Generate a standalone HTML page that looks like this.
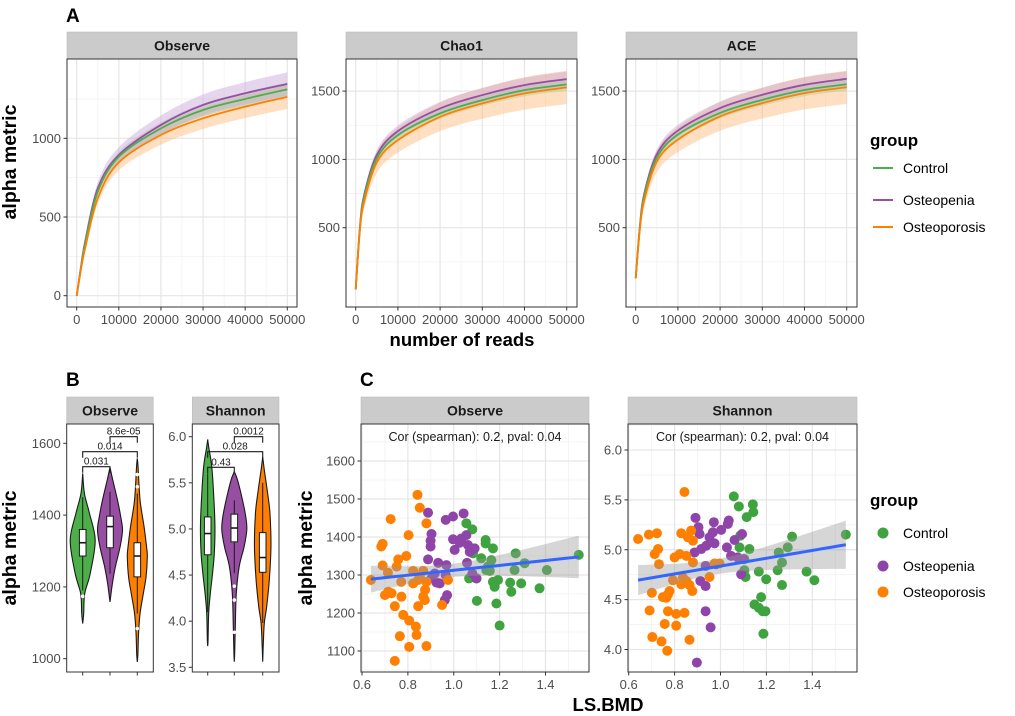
<!DOCTYPE html>
<html><head><meta charset="utf-8">
<style>
html,body{margin:0;padding:0;background:#fff;}
svg{display:block;font-family:"Liberation Sans",Arial,sans-serif;}
</style></head>
<body>
<svg id="chart" width="1015" height="716" viewBox="0 0 1015 716" xmlns="http://www.w3.org/2000/svg">
<text x="66" y="22" font-size="19" font-weight="bold">A</text>
<text x="66" y="386" font-size="19" font-weight="bold">B</text>
<text x="360" y="386" font-size="19" font-weight="bold">C</text>
<text transform="translate(16,162) rotate(-90)" text-anchor="middle" font-size="19.5" font-weight="bold">alpha metric</text>
<text transform="translate(16,548) rotate(-90)" text-anchor="middle" font-size="19.5" font-weight="bold">alpha metric</text>
<text transform="translate(312,548) rotate(-90)" text-anchor="middle" font-size="19.5" font-weight="bold">alpha metric</text>
<text x="462" y="346" text-anchor="middle" font-size="18.5" font-weight="bold">number of reads</text>
<text x="608" y="711" text-anchor="middle" font-size="18.5" font-weight="bold">LS.BMD</text>
<g>
<text x="870" y="146" font-size="17" font-weight="bold">group</text>
<line x1="873" x2="893" y1="168" y2="168" stroke="#4daf4a" stroke-width="2"/>
<text x="903" y="173" font-size="14">Control</text>
<line x1="873" x2="893" y1="200" y2="200" stroke="#984ea3" stroke-width="2"/>
<text x="903" y="205" font-size="14">Osteopenia</text>
<line x1="873" x2="893" y1="227" y2="227" stroke="#ff7f00" stroke-width="2"/>
<text x="903" y="232" font-size="14">Osteoporosis</text>
</g>
<g>
<text x="870" y="506" font-size="17" font-weight="bold">group</text>
<circle cx="883" cy="533" r="5.5" fill="#3fa33f"/>
<text x="903" y="538" font-size="14">Control</text>
<circle cx="883" cy="566" r="5.5" fill="#8e44a8"/>
<text x="903" y="571" font-size="14">Osteopenia</text>
<circle cx="883" cy="592" r="5.5" fill="#ff7f00"/>
<text x="903" y="597" font-size="14">Osteoporosis</text>
</g>
</svg>
<script>
// ---------- Panel A data ----------
const groups = ["Control","Osteopenia","Osteoporosis"];
const depths = [0,1000,2000,5000,10000,20000,30000,40000,50000];
const obsControl = [0,174,330,661,883,1063,1180,1250,1311];
const obsOsteopenia = [0,180,343,682,894,1085,1212,1286,1345];
const obsOsteoporosis = [0,165,300,619,847,1021,1127,1201,1263];
const chaoControl = [49,495,725,1007,1178,1337,1434,1507,1549];
const chaoOsteopenia = [49,505,739,1032,1207,1373,1471,1544,1588];
const chaoOsteoporosis = [49,480,690,978,1141,1312,1410,1483,1527];
const aceControl = [130,505,732,1012,1182,1340,1436,1508,1550];
const aceOsteopenia = [130,515,746,1037,1211,1376,1473,1546,1590];
const aceOsteoporosis = [130,490,698,983,1145,1315,1412,1485,1528];
const obsSpread = [0.035,0.055,0.06];
const chaoSpread = [0.03,0.035,0.08];
const xTicksA = [0,10000,20000,30000,40000,50000];
const yTicksObsA = [0,500,1000];
const yTicksChaoA = [500,1000,1500];
// ---------- Panel B data ----------
const obsViolinControl = [[1516,0],[1460,.14],[1405,.54],[1330,1],[1237,.6],[1181,.16],[1126,.08],[1098,0]];
const obsViolinOsteopenia = [[1533,0],[1498,.22],[1442,.6],[1395,.86],[1358,1],[1312,.81],[1256,.43],[1209,.19],[1158,0]];
const obsViolinOsteoporosis = [[1558,0],[1535,.06],[1442,.22],[1368,.54],[1312,.74],[1284,.8],[1228,.7],[1181,.48],[1126,.22],[1070,.1],[1014,.05],[991,0]];
const shaViolinControl = [[5.97,0],[5.89,.08],[5.68,.32],[5.39,.47],[5.03,.58],[4.74,.53],[4.52,.39],[4.30,.21],[4.09,.08],[3.80,.03],[3.73,0]];
const shaViolinOsteopenia = [[5.62,0],[5.53,.26],[5.31,.66],[5.13,.92],[4.99,1],[4.81,.79],[4.59,.39],[4.30,.16],[3.94,.08],[3.65,.03],[3.56,0]];
const shaViolinOsteoporosis = [[5.78,0],[5.64,.13],[5.39,.39],[5.17,.58],[4.81,.66],[4.45,.53],[4.16,.32],[3.98,.13],[3.76,.05],[3.56,0]];
const obsBoxes = [[1190,1286,1323,1360,1450],[1237,1309,1368,1397,1465],[1126,1228,1286,1323,1460]];
const obsOutliers = [[1174],[],[1513,1479,1084]];
const shaBoxes = [[4.1,4.72,4.95,5.13,5.6],[4.52,4.86,5.01,5.16,5.31],[3.98,4.53,4.69,4.96,5.5]];
const shaOutliers = [[],[4.38,4.23,3.88],[]];
const obsBrackets = [[0,1,"0.031"],[0,2,"0.014"],[1,2,"8.6e-05"]];
const shaBrackets = [[0,1,"0.43"],[0,2,"0.028"],[1,2,"0.0012"]];
const yTicksObsB = [1000,1200,1400,1600];
const yTicksShaB = [3.5,4.0,4.5,5.0,5.5,6.0];
// ---------- Panel C data ----------
const obsOrangeX = [0.639,0.842,0.852,0.725,0.881,0.803,0.690,0.684,0.793,0.758,0.751,0.690,0.713,0.823,0.867,0.771,0.823,0.845,0.881,0.875,0.714,0.729,0.700,0.772,0.867,0.874,0.845,0.743,0.949,0.780,0.806,0.835,0.838,0.765,0.806,0.881,0.743,0.975,0.852];
const obsOrangeY = [1287,1511,1477,1447,1436,1405,1382,1375,1350,1341,1322,1325,1306,1311,1311,1282,1278,1287,1282,1261,1256,1252,1247,1243,1243,1234,1218,1218,1221,1195,1180,1164,1142,1139,1111,1113,1074,1287,1296];
const obsPurpleX = [0.888,0.965,0.997,1.043,0.903,0.899,0.899,0.997,1.033,1.055,1.026,1.062,1.091,1.004,1.070,0.888,0.932,0.968,0.965,0.917,0.903,0.925,1.058,1.081,1.099,0.971,0.961,0.939];
const obsPurpleY = [1464,1445,1454,1462,1408,1390,1375,1394,1396,1405,1385,1379,1370,1366,1361,1341,1332,1326,1300,1304,1291,1280,1332,1304,1291,1247,1234,1278];
const obsGreenX = [1.055,1.081,1.139,1.139,1.171,1.084,1.120,1.164,1.149,1.142,1.157,1.270,1.309,1.265,1.406,1.067,1.099,1.193,1.171,1.178,1.246,1.294,1.251,1.374,1.101,1.186,1.200,1.545];
const obsGreenY = [1436,1420,1392,1383,1370,1357,1344,1339,1322,1313,1311,1357,1331,1313,1313,1291,1291,1287,1282,1269,1280,1278,1256,1265,1232,1225,1167,1353];
const shaOrangeX = [0.641,0.688,0.723,0.728,0.713,0.732,0.829,0.858,0.872,0.880,0.800,0.822,0.851,0.880,0.793,0.836,0.829,0.851,0.865,0.877,0.952,0.701,0.749,0.771,0.778,0.764,0.691,0.771,0.807,0.843,0.757,0.807,0.703,0.743,0.768,0.865,0.843,0.974,0.996];
const shaOrangeY = [5.108,5.152,5.165,5.007,4.956,4.855,5.165,5.125,5.192,5.091,4.923,4.956,4.939,4.872,4.694,4.721,4.653,4.687,4.646,4.586,4.727,4.569,4.525,4.552,4.586,4.519,4.391,4.384,4.357,4.367,4.256,4.239,4.125,4.081,3.987,4.098,5.579,4.862,4.862];
const shaPurpleX = [0.891,0.904,0.909,0.971,0.967,1.003,1.036,1.032,0.952,0.974,0.938,0.916,0.887,1.028,1.061,1.094,1.046,1.075,0.935,0.981,1.090,0.912,0.935,0.935,0.957,0.897,1.100];
const shaPurpleY = [5.320,5.226,5.158,5.276,5.175,5.199,5.293,5.259,5.125,5.064,5.040,5.007,4.973,5.024,5.098,5.158,4.939,4.923,4.838,4.855,4.754,4.687,4.636,4.384,4.222,3.869,4.906];
const shaGreenX = [1.058,1.080,1.141,1.143,1.114,1.086,1.083,1.126,1.104,1.104,1.109,1.167,1.199,1.249,1.268,1.254,1.293,1.312,1.375,1.409,1.268,1.546,1.177,1.148,1.167,1.184,1.196,1.187];
const shaGreenY = [5.535,5.434,5.455,5.377,5.327,5.141,5.024,5.007,4.906,4.795,4.727,4.781,4.704,4.795,4.872,4.973,5.024,5.131,4.781,4.694,4.646,5.152,4.525,4.451,4.418,4.384,4.384,4.158];
const xTicksC = [0.6,0.8,1.0,1.2,1.4];
const yTicksObsC = [1100,1200,1300,1400,1500,1600];
const yTicksShaC = [4.0,4.5,5.0,5.5,6.0];

const NS = "http://www.w3.org/2000/svg";
const svg = document.getElementById('chart');
const lineCols = ["#4daf4a","#984ea3","#ff7f00"];
const ribCols = ["#9fd39a","#c7a3d6","#ffb877"];
const ptCols = ["#3fa33f","#8e44a8","#ff7f00"];
function el(tag, attrs, parent){ const e=document.createElementNS(NS,tag); for(const k in attrs) e.setAttribute(k,attrs[k]); (parent||svg).appendChild(e); return e; }
function lin(d0,d1,p0,p1){ return v => p0 + (v-d0)*(p1-p0)/(d1-d0); }
function smooth(pts){
  let d = "M"+pts[0][0].toFixed(2)+","+pts[0][1].toFixed(2);
  for(let i=0;i<pts.length-1;i++){
    const p0=pts[Math.max(i-1,0)],p1=pts[i],p2=pts[i+1],p3=pts[Math.min(i+2,pts.length-1)];
    const c1=[p1[0]+(p2[0]-p0[0])/6,p1[1]+(p2[1]-p0[1])/6], c2=[p2[0]-(p3[0]-p1[0])/6,p2[1]-(p3[1]-p1[1])/6];
    d+="C"+c1.map(v=>v.toFixed(2)).join(",")+" "+c2.map(v=>v.toFixed(2)).join(",")+" "+p2[0].toFixed(2)+","+p2[1].toFixed(2);
  }
  return d;
}
function fmt(v,dec){ return dec? v.toFixed(dec) : String(v); }

function panel(o){
  const g = el('g',{});
  
  
  const bg = el('rect',{x:o.x0,y:o.y0,width:o.x1-o.x0,height:o.y1-o.y0,fill:'#fff'},g);
  
  
  if(o.grid){
    const gg = el('g',{},g);
    
    
    const mx = [], my = [];
    for(let i=0;i<o.xt.length-1;i++) mx.push((o.xt[i]+o.xt[i+1])/2);
    for(let i=0;i<o.yt.length-1;i++) my.push((o.yt[i]+o.yt[i+1])/2);
    if(o.xMinorExtra) mx.push(o.xt[o.xt.length-1]+(o.xt[1]-o.xt[0])/2);
    if(o.yMinorExtra) my.push(o.yt[o.yt.length-1]+(o.yt[1]-o.yt[0])/2, o.yt[0]-(o.yt[1]-o.yt[0])/2);
    mx.forEach(v=>{ const X=o.sx(v); if(X>o.x0&&X<o.x1) el('line',{x1:X,x2:X,y1:o.y0,y2:o.y1,stroke:'#f2f2f2','stroke-width':0.8},gg); });
    my.forEach(v=>{ const Y=o.sy(v); if(Y>o.y0&&Y<o.y1) el('line',{x1:o.x0,x2:o.x1,y1:Y,y2:Y,stroke:'#f2f2f2','stroke-width':0.8},gg); });
    o.xt.forEach(v=>{ const X=o.sx(v); el('line',{x1:X,x2:X,y1:o.y0,y2:o.y1,stroke:'#e6e6e6','stroke-width':1.2},gg); });
    o.yt.forEach(v=>{ const Y=o.sy(v); el('line',{x1:o.x0,x2:o.x1,y1:Y,y2:Y,stroke:'#e6e6e6','stroke-width':1.2},gg); });
  }
  const strip = el('rect',{x:o.x0,y:o.sy0,width:o.x1-o.x0,height:o.y0-o.sy0,fill:'#cbcbcb',stroke:'#bdbdbd','stroke-width':0.6},g);
  
  
  const st = el('text',{x:(o.x0+o.x1)/2,y:(o.sy0+o.y0)/2+5,'text-anchor':'middle','font-size':14,'font-weight':'bold',fill:'#1a1a1a'},g);
  st.textContent = o.title;
  
  
  o.yt.forEach(v=>{
    const Y=o.sy(v);
    const t=el('line',{x1:o.x0-3.5,x2:o.x0,y1:Y,y2:Y,stroke:'#333','stroke-width':1},g);
    
    
    if(o.yLabels!==false){
      const tl=el('text',{x:o.x0-6,y:Y+4.5,'text-anchor':'end','font-size':13,fill:'#4d4d4d'},g);
      tl.textContent = fmt(v,o.ydec);
      
      
    }
  });
  o.xt.forEach(v=>{
    const X=o.sx(v);
    const t=el('line',{x1:X,x2:X,y1:o.y1,y2:o.y1+3.5,stroke:'#333','stroke-width':1},g);
    
    
    if(o.xLabels!==false){
      const tl=el('text',{x:X,y:o.y1+17,'text-anchor':'middle','font-size':13,fill:'#4d4d4d'},g);
      tl.textContent = fmt(v,o.xdec);
      
      
    }
  });
  const marks = el('g',{},g);
  
  
  o.draw(marks);
  const bd = el('rect',{x:o.x0,y:o.y0,width:o.x1-o.x0,height:o.y1-o.y0,fill:'none',stroke:'#333','stroke-width':1},g);
  
  
}

// ---- Panel A ----
function rarefy(series, spread, sx, sy){
  return function(g){
    [2,0,1].forEach(i=>{
      const top = depths.map((d,k)=>[sx(d), sy(series[i][k]*(1+spread[i]))]);
      const bot = depths.map((d,k)=>[sx(d), sy(series[i][k]*(1-spread[i]))]).reverse();
      const r = el('path',{d:smooth(top)+smooth(bot).replace(/^M/,'L')+'Z',fill:ribCols[i],'fill-opacity':0.45},g);
      
      
    });
    [1,0,2].forEach(i=>{
      const p = el('path',{d:smooth(depths.map((d,k)=>[sx(d), sy(series[i][k])])),fill:'none',stroke:lineCols[i],'stroke-width':1.8},g);
      
      
    });
  };
}
(function(){
  let sx=lin(0,50000,76.7,287.3), sy=lin(0,1000,295.7,138.3);
  panel({name:'panel-a-observe',title:'Observe',x0:67,x1:297,y0:59,y1:307,sy0:32,grid:true,xt:xTicksA,yt:yTicksObsA,sx,sy,yMinorExtra:true,
    draw:rarefy([obsControl,obsOsteopenia,obsOsteoporosis],obsSpread,sx,sy)});
  let sx2=lin(0,50000,355.7,566.7), sy2=lin(0,500,296,227.7);
  panel({name:'panel-a-chao1',title:'Chao1',x0:346,x1:577,y0:59,y1:307,sy0:32,grid:true,xt:xTicksA,yt:yTicksChaoA,sx:sx2,sy:sy2,yMinorExtra:true,
    draw:rarefy([chaoControl,chaoOsteopenia,chaoOsteoporosis],chaoSpread,sx2,sy2)});
  let sx3=lin(0,50000,635.7,846.7), sy3=lin(0,500,296,227.7);
  panel({name:'panel-a-ace',title:'ACE',x0:626,x1:857,y0:59,y1:307,sy0:32,grid:true,xt:xTicksA,yt:yTicksChaoA,sx:sx3,sy:sy3,yMinorExtra:true,
    draw:rarefy([aceControl,aceOsteopenia,aceOsteoporosis],chaoSpread,sx3,sy3)});
})();

// ---- Panel B ----
function violins(vdata, boxes, outs, brackets, centers, sy, bracketYs){
  return function(g){
    vdata.forEach((v,i)=>{
      const cx=centers[i], W=12.5;
      const right = v.map(p=>[cx+p[1]*W, sy(p[0])]);
      const left = v.map(p=>[cx-p[1]*W, sy(p[0])]).reverse();
      const p = el('path',{d:smooth(right)+smooth(left).replace(/^M/,'L')+'Z',fill:lineCols[i],stroke:'#1a1a1a','stroke-width':1.1},g);
      
      
      const b = boxes[i];
      const w = el('line',{x1:cx,x2:cx,y1:sy(b[0]),y2:sy(b[4]),stroke:'#1a1a1a','stroke-width':1},g);
      
      
      const r = el('rect',{x:cx-3.3,y:sy(b[3]),width:6.6,height:sy(b[1])-sy(b[3]),fill:'#fff',stroke:'#1a1a1a','stroke-width':1},g);
      
      
      const m = el('line',{x1:cx-3.3,x2:cx+3.3,y1:sy(b[2]),y2:sy(b[2]),stroke:'#1a1a1a','stroke-width':1.6},g);
      
      
      outs[i].forEach(o=>{
        const c = el('circle',{cx:cx,cy:sy(o),r:1.8,fill:'#fff'},g);
        
        
      });
    });
    brackets.forEach((br,k)=>{
      const x1=centers[br[0]], x2=centers[br[1]], Y=bracketYs[k];
      const p = el('path',{d:`M${x1},${Y+6}V${Y}H${x2}V${Y+6}`,fill:'none',stroke:'#1a1a1a','stroke-width':1.1},g);
      
      
      const t = el('text',{x:(x1+x2)/2,y:Y-2,'text-anchor':'middle','font-size':10,fill:'#1a1a1a'},g);
      t.textContent = br[2];
      
      
    });
  };
}
(function(){
  const sy=lin(1600,1000,443.3,658.7);
  const c1=[82.7,110,137.3];
  panel({name:'panel-b-observe',title:'Observe',x0:66.7,x1:153.3,y0:424,y1:672,sy0:397,grid:false,xt:[0,1,2],yt:yTicksObsB,sx:i=>c1[i],sy,xLabels:false,
    draw:violins([obsViolinControl,obsViolinOsteopenia,obsViolinOsteoporosis],obsBoxes,obsOutliers,obsBrackets,c1,sy,[466.7,451.7,436.7])});
  const sy2=lin(6,3.5,436.7,667.3);
  const c2=[207.7,234.3,262.7];
  panel({name:'panel-b-shannon',title:'Shannon',x0:192.3,x1:279,y0:424,y1:672,sy0:397,grid:false,xt:[0,1,2],yt:yTicksShaB,sx:i=>c2[i],sy:sy2,xLabels:false,ydec:1,
    draw:violins([shaViolinControl,shaViolinOsteopenia,shaViolinOsteoporosis],shaBoxes,shaOutliers,shaBrackets,c2,sy2,[467.3,451.7,436.7])});
})();

// ---- Panel C ----
function scatter(xs, ys, sx, sy, xr, label){
  return function(g){
    xs.forEach((arr,i)=>{
      arr.forEach((x,k)=>{
        const c = el('circle',{cx:sx(x),cy:sy(ys[i][k]),r:5,fill:ptCols[i]},g);
        
        
      });
    });
    const X=[].concat(...xs), Y=[].concat(...ys), n=X.length;
    const mx=X.reduce((a,b)=>a+b,0)/n, my=Y.reduce((a,b)=>a+b,0)/n;
    let sxx=0,sxy=0; X.forEach((x,k)=>{sxx+=(x-mx)**2; sxy+=(x-mx)*(Y[k]-my);});
    const b=sxy/sxx, a=my-b*mx;
    let sse=0; X.forEach((x,k)=>{sse+=(Y[k]-a-b*x)**2;});
    const s=Math.sqrt(sse/(n-2));
    const xmin=Math.min(...X), xmax=Math.max(...X), steps=30;
    const up=[],lo=[],fit=[];
    for(let j=0;j<=steps;j++){
      const x=xmin+(xmax-xmin)*j/steps, yh=a+b*x, se=1.98*s*Math.sqrt(1/n+(x-mx)**2/sxx);
      up.push(sx(x)+','+sy(yh+se)); lo.unshift(sx(x)+','+sy(yh-se)); fit.push(sx(x)+','+sy(yh));
    }
    const rb = el('polygon',{points:up.concat(lo).join(' '),fill:'#999','fill-opacity':0.4},g);
    
    
    const ln = el('polyline',{points:fit.join(' '),fill:'none',stroke:'#3366ff','stroke-width':3},g);
    
    
    const t = el('text',{x:(xr[0]+xr[1])/2,y:441,'text-anchor':'middle','font-size':12.5,fill:'#1a1a1a'},g);
    t.textContent = label;
    
    
  };
}
(function(){
  const sx=lin(0.6,1.4,362,545.5), sy=lin(1600,1100,461,651);
  panel({name:'panel-c-observe',title:'Observe',x0:361,x1:589,y0:424,y1:672,sy0:397,grid:true,xt:xTicksC,yt:yTicksObsC,sx,sy,xdec:1,xMinorExtra:true,yMinorExtra:true,
    draw:scatter([obsGreenX,obsPurpleX,obsOrangeX],[obsGreenY,obsPurpleY,obsOrangeY],sx,sy,[361,589],'Cor (spearman): 0.2, pval: 0.04')});
  const sx2=lin(0.6,1.4,628.7,812.3), sy2=lin(6,4,450,649.5);
  panel({name:'panel-c-shannon',title:'Shannon',x0:628,x1:857,y0:424,y1:672,sy0:397,grid:true,xt:xTicksC,yt:yTicksShaC,sx:sx2,sy:sy2,xdec:1,ydec:1,xMinorExtra:true,yMinorExtra:true,
    draw:scatter([shaGreenX,shaPurpleX,shaOrangeX],[shaGreenY,shaPurpleY,shaOrangeY],sx2,sy2,[628,857],'Cor (spearman): 0.2, pval: 0.04')});
})();
</script>
</body></html>
